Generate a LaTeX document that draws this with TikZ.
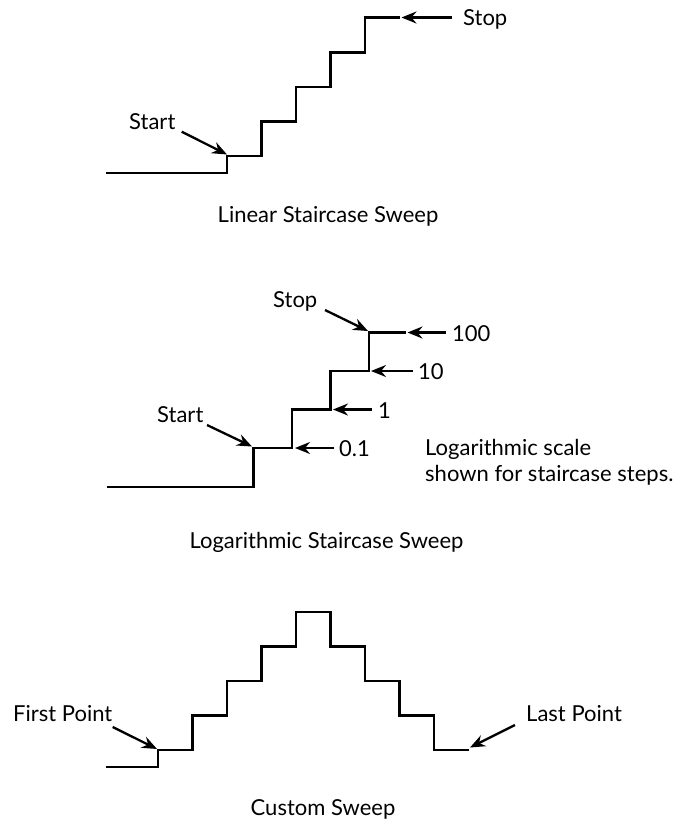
\documentclass[tikz,border=0pt]{standalone}
\usepackage{fontspec}
\setmainfont{Lato}
\usetikzlibrary{arrows.meta}
\begin{document}
\begin{tikzpicture}[x=1pt,y=-1pt,
  stair/.style={line width=2.8pt,line join=miter,line cap=butt},
  arr/.style={line width=2.3pt,-{Stealth[length=15pt,width=12pt,inset=5pt]}},
  lbl/.style={anchor=base west,inner sep=0pt,font=\fontsize{22}{26}\selectfont},
  captxt/.style={anchor=base,inner sep=0pt,font=\fontsize{22}{26}\selectfont}]
\useasboundingbox (0,0) rectangle (686,823);
% ---------- Linear staircase ----------
\draw[stair] (106,173) -- (227,173) -- (227,156) -- (261.5,156) -- (261.5,121.5)
  -- (296,121.5) -- (296,87) -- (330.5,87) -- (330.5,52.5) -- (365,52.5)
  -- (365,17.5) -- (399.5,17.5);
\node[lbl] (linstart) at (129,129) {Start};
\node[lbl] (linstop) at (463,25) {Stop};
\coordinate (linstartT) at (181.7,131.7);
\coordinate (linstartH) at (227,154.5);
\coordinate (linstopT) at (452,17.5);
\coordinate (linstopH) at (401.5,17.5);
\draw[arr] (linstartT) -- (linstartH);
\draw[arr] (linstopT) -- (linstopH);
\node[captxt] (lincap) at (328,222) {Linear Staircase Sweep};
% ---------- Logarithmic staircase ----------
\draw[stair] (107,487) -- (253.5,487) -- (253.5,448) -- (292,448) -- (292,409.5)
  -- (330.5,409.5) -- (330.5,371) -- (369,371) -- (369,332.5) -- (406,332.5);
\node[lbl] (logstop) at (273,307) {Stop};
\node[lbl] (logstart) at (157,422) {Start};
\coordinate (logstopT) at (325,310);
\coordinate (logstopH) at (368,331);
\coordinate (logstartT) at (207,425);
\coordinate (logstartH) at (252,446.5);
\draw[arr] (logstopT) -- (logstopH);
\draw[arr] (logstartT) -- (logstartH);
\node[lbl] (l100) at (452,341) {100};
\node[lbl] (l10) at (418,379.5) {10};
\node[lbl] (l1) at (378,418) {1};
\node[lbl] (l01) at (339,456.5) {0.1};
\coordinate (a100T) at (446,332.5);
\coordinate (a100H) at (407.5,332.5);
\coordinate (a10T) at (412.5,371);
\coordinate (a10H) at (371,371);
\coordinate (a1T) at (371.5,409.5);
\coordinate (a1H) at (333,409.5);
\coordinate (a01T) at (334,448);
\coordinate (a01H) at (295,448);
\draw[arr] (a100T) -- (a100H);
\draw[arr] (a10T) -- (a10H);
\draw[arr] (a1T) -- (a1H);
\draw[arr] (a01T) -- (a01H);
\node[lbl] (lognote1) at (425,455.5) {Logarithmic scale};
\node[lbl] (lognote2) at (425,481.5) {shown for staircase steps.};
\node[captxt] (logcap) at (326.5,548) {Logarithmic Staircase Sweep};
% ---------- Custom sweep ----------
\draw[stair] (106,767) -- (158,767) -- (158,750) -- (192.5,750) -- (192.5,715.5)
  -- (227,715.5) -- (227,681) -- (261.5,681) -- (261.5,646.5) -- (296,646.5)
  -- (296,612) -- (330.5,612) -- (330.5,646.5) -- (365,646.5) -- (365,681)
  -- (399.5,681) -- (399.5,715.5) -- (434,715.5) -- (434,750) -- (468.5,750);
\node[lbl] (first) at (13,721.5) {First Point};
\node[lbl] (last) at (526,721.5) {Last Point};
\coordinate (firstT) at (112.7,727);
\coordinate (firstH) at (157,749);
\coordinate (lastT) at (515,725);
\coordinate (lastH) at (470,747.5);
\draw[arr] (firstT) -- (firstH);
\draw[arr] (lastT) -- (lastH);
\node[captxt] (custcap) at (323,815) {Custom Sweep};
\end{tikzpicture}
\end{document}
